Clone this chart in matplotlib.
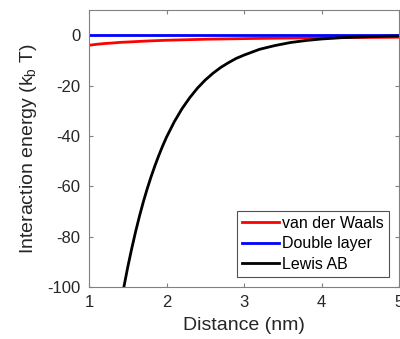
import numpy as np
import matplotlib
matplotlib.use('Agg')
from matplotlib import pyplot as plt

plt.rcParams['font.family'] = ['Liberation Sans', 'DejaVu Sans']
plt.rcParams['axes.unicode_minus'] = False

# values
x_vdw = [1.0, 1.1, 1.2, 1.3, 1.4, 1.5, 1.75, 2.0, 2.25, 2.5, 3.0, 3.5, 4.0, 4.5, 5.0]
y_vdw = [-4.0, -3.6, -3.3, -3.1, -2.85, -2.7, -2.3, -2.0, -1.8, -1.6, -1.35, -1.15,
         -1.0, -0.9, -0.8]

x_dl = [1.0, 2.0, 3.0, 4.0, 5.0]
y_dl = [0.0, 0.0, 0.0, 0.0, 0.0]

x_ab = [1.45, 1.5, 1.55, 1.6, 1.65, 1.7, 1.75, 1.8, 1.85, 1.9, 1.95, 2.0,
        2.1, 2.2, 2.3, 2.4, 2.5, 2.6, 2.7, 2.8, 2.9, 3.0,
        3.2, 3.4, 3.6, 3.8, 4.0, 4.25, 4.5, 4.75, 5.0]
y_ab = [-100, -92.1, -84.9, -78.2, -72.0, -66.3, -61.1, -56.3, -51.9, -47.8, -44.0, -40.5,
        -34.4, -29.2, -24.8, -21.0, -17.8, -15.1, -12.8, -10.9, -9.2, -7.9,
        -5.6, -4.1, -2.9, -2.1, -1.5, -1.0, -0.7, -0.45, -0.3]

xticks = [1, 2, 3, 4, 5]
yticks = [-100, -80, -60, -40, -20, 0]

fig = plt.figure(figsize=(4, 3.39), dpi=100)
ax = fig.add_axes([0.2225, 0.1534, 0.775, 0.817])

ax.plot(x_vdw, y_vdw, color='red', lw=2, label='van der Waals')
ax.plot(x_dl, y_dl, color='blue', lw=2, label='Double layer')
ax.plot(x_ab, y_ab, color='black', lw=2, label='Lewis AB')

ax.set_xlim(1, 5)
ax.set_ylim(-100, 10)
ax.set_xticks(xticks)
ax.set_yticks(yticks)
ax.tick_params(direction='in', top=True, right=True, length=3,
               color='#808080', labelsize=12, labelcolor='#262626', pad=6)
for s in ax.spines.values():
    s.set_color('#808080')
    s.set_linewidth(0.8)

ax.set_xlabel('Distance (nm)', fontsize=14, color='#262626', labelpad=5)
ax.set_ylabel('Interaction energy (k$_\\mathregular{b}$ T)', fontsize=14,
              color='#262626', labelpad=6)

leg = ax.legend(loc='lower right', fontsize=11.5, frameon=True, fancybox=False,
                borderpad=0.3, handlelength=2.3, handletextpad=0.2,
                labelspacing=0.35, borderaxespad=0.65)
leg.get_frame().set_edgecolor('#262626')
leg.get_frame().set_linewidth(0.8)

fig.savefig('out.png', dpi=100)
